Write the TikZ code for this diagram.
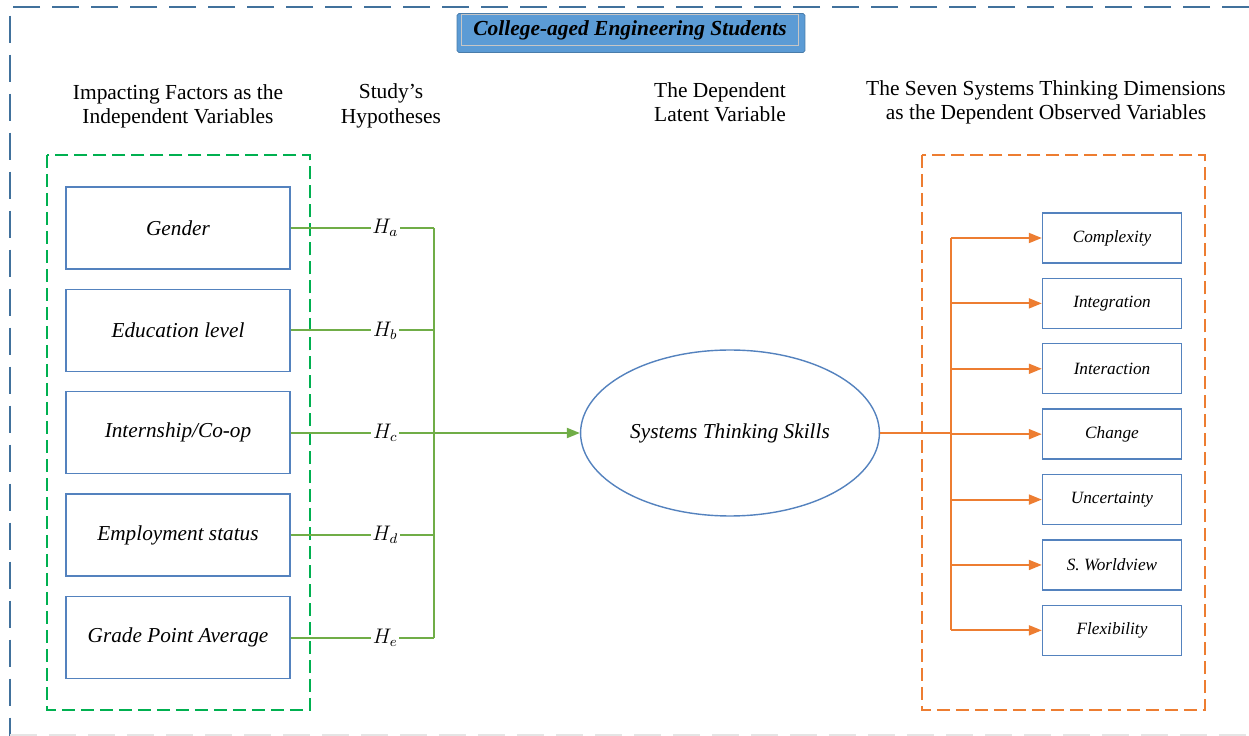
\documentclass[tikz,border=0pt]{standalone}
\usepackage{fontspec}
\setmainfont{Liberation Serif}
\usetikzlibrary{shapes,arrows,arrows.meta,positioning}
\definecolor{boxblue}{RGB}{84,130,190}
\definecolor{hypgreen}{RGB}{112,173,71}
\definecolor{dashgreen}{RGB}{0,176,80}
\definecolor{dimorange}{RGB}{237,125,49}
\definecolor{titleblue}{RGB}{91,155,213}
\definecolor{frameblue}{RGB}{65,113,156}
\tikzset{factor/.style={draw=boxblue, thick, text centered, minimum height=1.64cm, minimum width=4.48cm, font=\fontsize{12.1}{14}\selectfont\itshape}}
\tikzset{dim/.style={draw=boxblue, thick, text centered, minimum height=1cm, minimum width=2.78cm, font=\fontsize{9.8}{12}\selectfont\itshape}}
\tikzset{head/.style={align=center, font=\fontsize{12.2}{13.8}\selectfont}}
\tikzset{hyp/.style={fill=white, inner sep=1pt, font=\fontsize{12}{14}\selectfont}}
\tikzset{hline/.style={draw=hypgreen, line width=1.1pt}}
\tikzset{oline/.style={draw=dimorange, line width=1.1pt}}
\tikzset{tip/.style={-{Triangle[length=0.26cm, width=0.2cm]}}}
\tikzset{group/.style={thick, dash pattern=on 0.26cm off 0.12cm}}

\begin{document}
\begin{tikzpicture}[x=0.02cm, y=-0.02cm]
		\useasboundingbox (0,0) rectangle (1249,736);

		% outer frame
		\draw [frameblue, thick, dash pattern=on 0.54cm off 0.24cm] (1249,7) -- (10,7) -- (10,736);
		\draw [black!10, thick, dash pattern=on 0.54cm off 0.24cm] (10,735) -- (1249,735);

		% title
		\node [fill=titleblue, draw=titleblue!80!black, rounded corners=1pt, minimum width=6.96cm, minimum height=0.78cm] (title) at (631,33) {};
		\node [draw=gray!45, thick, minimum width=6.74cm, minimum height=0.58cm, font=\fontsize{12.2}{14}\selectfont\bfseries\itshape] (titletext) at (630,30) {College-aged Engineering Students};

		% headings
		\node [head]	(hf) at (178,106)	{Impacting Factors as the\\Independent Variables};
		\node [head]	(hh) at (391,106)	{Study’s\\Hypotheses};
		\node [head]	(hl) at (720,102)	{The Dependent\\Latent Variable};
		\node [head]	(ho) at (1046,102)	{The Seven Systems Thinking Dimensions\\as the Dependent Observed Variables};

		% groups
		\draw [group, dashgreen] (47,155) rectangle (310,710);
		\draw [group, dimorange] (922,155) rectangle (1205,710);

		% impacting factors
		\node [factor]							(g1) at (178,228) {Gender};
		\node [factor, below=0.38cm of g1]		(g2) {Education level};
		\node [factor, below=0.38cm of g2]		(g3) {Internship/Co-op};
		\node [factor, below=0.38cm of g3]		(g4) {Employment status};
		\node [factor, below=0.38cm of g4]		(g5) {Grade Point Average};

		% latent variable
		\node [ellipse, draw=boxblue, thick, minimum width=5.92cm, minimum height=3.32cm, font=\fontsize{12.1}{14}\selectfont\itshape] (sts) at (730,433) {Systems Thinking Skills};

		% dimensions
		\node [dim]							(d1) at (1112,238) {Complexity};
		\node [dim, below=0.28cm of d1]		(d2) {Integration};
		\node [dim, below=0.28cm of d2]		(d3) {Interaction};
		\node [dim, below=0.28cm of d3]		(d4) {Change};
		\node [dim, below=0.28cm of d4]		(d5) {Uncertainty};
		\node [dim, below=0.28cm of d5]		(d6) {S. Worldview};
		\node [dim, below=0.28cm of d6]		(d7) {Flexibility};

		\coordinate (j) at (434,433);
		\coordinate (k) at (951,433);

		% hypotheses
		\path [hline] (g1.east) -- node [hyp, pos=0.66] {$H_a$} (g1.east -| j);
		\path [hline] (g2.east) -- node [hyp, pos=0.66] {$H_b$} (g2.east -| j);
		\path [hline] (g3.east) -- node [hyp, pos=0.66] {$H_c$} (g3.east -| j);
		\path [hline] (g4.east) -- node [hyp, pos=0.66] {$H_d$} (g4.east -| j);
		\path [hline] (g5.east) -- node [hyp, pos=0.66] {$H_e$} (g5.east -| j);
		\path [hline] (g1.east -| j) -- (g5.east -| j);
		\path [hline, tip] (j) -- (sts);

		% dimension arrows
		\path [oline] (sts) -- (k);
		\path [oline] (d1.west -| k) -- (d7.west -| k);
		\foreach \i in {1,...,7}
			\path [oline, tip] (d\i.west -| k) -- (d\i);
	\end{tikzpicture}
\end{document}
